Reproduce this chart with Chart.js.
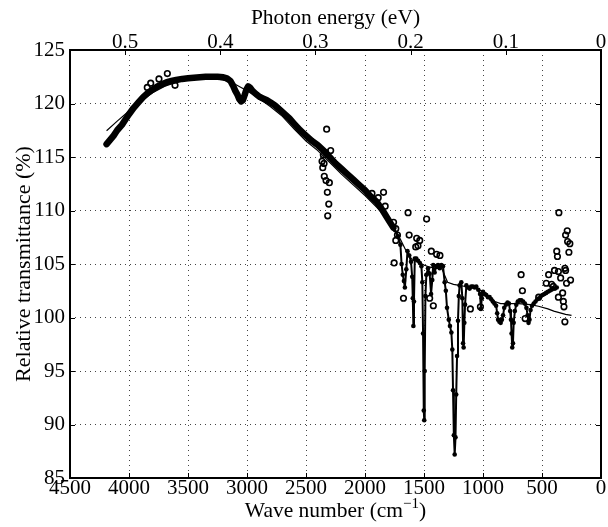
<!DOCTYPE html>
<html>
<head>
<meta charset="utf-8">
<title>Relative transmittance</title>
<script src="https://cdn.jsdelivr.net/npm/chart.js@4.4.1/dist/chart.umd.min.js"></script>
<style>
  html, body { margin: 0; padding: 0; background: #fff; }
</style>
</head>
<body>
<canvas id="spectrumChart" width="608" height="527"></canvas>
<script>
"use strict";

// axis ticks
const waveTicks = [4500, 4000, 3500, 3000, 2500, 2000, 1500, 1000, 500, 0];
const transTicks = [85, 90, 95, 100, 105, 110, 115, 120, 125];
const energyTicks = [0.5, 0.4, 0.3, 0.2, 0.1, 0];
const CM_PER_EV = 8065.54;

// measured spectrum (line with dots)
const lineWn = [
  4190, 4160, 4130, 4100, 4060, 4030, 4000, 3960, 3920, 3880,
  3840, 3800, 3760, 3720, 3680, 3640, 3600, 3550, 3500, 3450,
  3400, 3350, 3300, 3250, 3200, 3170, 3140, 3120, 3100, 3080,
  3065, 3050, 3035, 3020, 3005, 2990, 2975, 2955, 2935, 2915,
  2890, 2860, 2830, 2800, 2760, 2720, 2680, 2640, 2600, 2550,
  2500, 2450, 2400, 2350, 2300, 2250, 2200, 2150, 2100, 2050,
  2000, 1950, 1900, 1850, 1800, 1760, 1720, 1700, 1690, 1680,
  1670, 1662, 1650, 1640, 1625, 1610, 1600, 1595, 1590, 1585,
  1578, 1565, 1550, 1535, 1522, 1514, 1508, 1502, 1498, 1494,
  1488, 1480, 1466, 1452, 1440, 1430, 1422, 1410, 1395, 1381,
  1367, 1353, 1339, 1325, 1315, 1305, 1290, 1280, 1268, 1260,
  1254, 1247, 1240, 1233, 1227, 1220, 1212, 1205, 1198, 1184,
  1175, 1169, 1164, 1158, 1152, 1141, 1127, 1113, 1100, 1085,
  1070, 1057, 1040, 1025, 1018, 1010, 1000, 985, 972, 958,
  944, 930, 917, 903, 889, 880, 872, 861, 850, 840,
  830, 820, 806, 792, 780, 770, 763, 758, 752, 746,
  740, 730, 718, 705, 690, 675, 660, 645, 632, 622,
  614, 606, 597, 585, 570, 555, 540, 525, 510, 495,
  480, 465, 450, 435, 420, 405, 390, 375
];
const lineVal = [
  116.2, 116.6, 117.0, 117.5, 118.0, 118.5, 119.0, 119.6, 120.1, 120.6,
  121.0, 121.3, 121.6, 121.8, 122.0, 122.1, 122.2, 122.3, 122.35, 122.4,
  122.45, 122.5, 122.5, 122.5, 122.45, 122.35, 122.1, 121.7, 121.2, 120.8,
  120.4, 120.2, 120.3, 120.8, 121.3, 121.6, 121.5, 121.2, 121.0, 120.8,
  120.6, 120.45, 120.3, 120.1, 119.8, 119.4, 119.0, 118.6, 118.1, 117.5,
  117.0, 116.5, 116.1, 115.6, 115.0, 114.4, 113.9, 113.4, 112.9, 112.4,
  111.9, 111.3, 110.8, 110.0, 109.1, 108.4, 107.6, 106.8, 105.0, 104.0,
  103.4, 102.8, 104.5, 106.2, 105.8, 105.2, 103.8, 101.8, 99.2, 101.5,
  105.5, 105.5, 105.3, 105.1, 104.8, 103.3, 98.5, 91.3, 90.4, 95.0,
  102.0, 104.0, 104.6, 104.1, 102.2, 103.5, 104.9, 104.2, 104.8, 104.9,
  104.6, 104.9, 104.8, 103.3, 102.5, 100.9, 99.8, 99.2, 98.6, 97.0,
  93.2, 89.0, 87.2, 88.8, 92.8, 96.4, 99.7, 102.0, 103.0, 103.3,
  101.8, 97.6, 97.2, 99.5, 101.2, 103.0, 102.8, 102.7, 102.9, 102.9,
  102.8, 102.9, 102.6, 102.2, 100.8, 101.8, 102.4, 102.2, 102.1, 101.9,
  101.9, 101.7, 101.5, 101.3, 101.1, 100.4, 99.8, 99.6, 99.5, 99.8,
  100.2, 100.9, 101.2, 101.4, 101.3, 100.6, 99.8, 98.5, 97.2, 97.6,
  99.5, 100.6, 101.2, 101.5, 101.6, 101.6, 101.5, 101.3, 100.9, 100.2,
  99.5, 99.8, 100.7, 101.1, 101.3, 101.5, 101.7, 101.8, 102.0, 102.1,
  102.2, 102.3, 102.4, 102.5, 102.6, 102.7, 102.7, 102.8
];

// scattered points (open circles)
const dotWn = [
  3845, 3816, 3746, 3675, 3610,
  2325, 2291, 2333, 2353, 2364, 2347, 2358, 2345, 2330, 2302, 2319, 2307, 2316,
  1941, 1888, 1843, 1829, 1758, 1739, 1725, 1739, 1753, 1674,
  1635, 1626, 1562, 1536, 1570, 1551, 1478, 1438, 1393, 1365, 1421, 1452,
  1107, 1022, 677, 666, 643, 528,
  357, 286, 300, 283, 264, 272, 375, 369, 394, 361, 444, 464,
  342, 325, 258, 292, 319, 314, 306, 361, 300, 306, 419, 404
];
const dotVal = [
  121.5, 121.9, 122.3, 122.8, 121.7,
  117.6, 115.6, 115.4, 115.2, 114.6, 114.4, 114.0, 113.2, 112.8, 112.6, 111.7, 110.6, 109.5,
  111.6, 111.2, 111.7, 110.4, 108.9, 108.3, 107.7, 107.2, 105.1, 101.8,
  109.8, 107.7, 107.4, 107.2, 106.6, 106.7, 109.2, 106.2, 105.9, 105.8, 101.1, 101.8,
  100.8, 101.0, 104.0, 102.5, 99.9, 101.9,
  109.8, 108.1, 107.7, 107.1, 106.9, 106.1, 106.2, 105.7, 104.4, 104.3, 104.0, 103.2,
  103.7, 102.3, 103.5, 103.2, 101.5, 101.0, 99.6, 101.9, 104.4, 104.6, 103.1, 102.9
];

// smooth fitted curve
const fitWn = [
  4190, 4100, 4000, 3900, 3800, 3700, 3600, 3500, 3400, 3300,
  3200, 3100, 3000, 2900, 2800, 2700, 2600, 2500, 2400, 2300,
  2200, 2100, 2000, 1900, 1800, 1750, 1700, 1650, 1600, 1550,
  1500, 1450, 1400, 1350, 1300, 1250, 1200, 1150, 1100, 1050,
  1000, 950, 900, 850, 800, 700, 600, 530, 450, 400,
  300, 250
];
const fitVal = [
  117.45, 118.35, 119.3, 120.2, 121.0, 121.6, 122.0, 122.25, 122.35, 122.35,
  122.2, 121.8, 121.2, 120.5, 119.7, 118.8, 117.6, 116.5, 115.6, 114.5,
  113.4, 112.4, 111.4, 110.3, 109.1, 108.3, 107.3, 106.2, 105.4, 105.2,
  104.9, 104.7, 104.6, 104.6, 103.3, 103.1, 103.0, 102.9, 102.8, 102.7,
  102.4, 102.0, 101.5, 101.3, 101.3, 101.3, 101.2, 101.05, 100.8, 100.6,
  100.3, 100.2
];

const FONT = "'Liberation Serif', 'Times New Roman', serif";
const tickFont = { family: FONT, size: 21 };

function toPoints(xs, ys) {
  return xs.map((x, i) => ({ x: x, y: ys[i] }));
}

// box, inward tick marks and the bottom title (with superscript)
const framePlugin = {
  id: "frame",
  afterDraw(chart) {
    const { ctx, chartArea: a, scales } = chart;
    ctx.save();
    ctx.strokeStyle = "#000";
    ctx.lineWidth = 1;
    ctx.beginPath();
    waveTicks.forEach((v) => {
      const x = Math.round(scales.x.getPixelForValue(v)) + 0.5;
      ctx.moveTo(x, a.bottom);
      ctx.lineTo(x, a.bottom - 5);
    });
    energyTicks.forEach((e) => {
      const x = Math.round(scales.x2.getPixelForValue(e * CM_PER_EV)) + 0.5;
      ctx.moveTo(x, a.top);
      ctx.lineTo(x, a.top + 5);
    });
    transTicks.forEach((v) => {
      const y = Math.round(scales.y.getPixelForValue(v)) + 0.5;
      ctx.moveTo(a.left, y);
      ctx.lineTo(a.left + 5, y);
      ctx.moveTo(a.right, y);
      ctx.lineTo(a.right - 5, y);
    });
    ctx.stroke();

    ctx.lineWidth = 2;
    ctx.strokeRect(a.left, a.top, a.right - a.left, a.bottom - a.top);

    const main = "Wave number (cm";
    const sup = "\u22121";
    const tail = ")";
    ctx.fillStyle = "#000";
    ctx.textBaseline = "alphabetic";
    ctx.font = "21.5px " + FONT;
    const w1 = ctx.measureText(main).width;
    const w3 = ctx.measureText(tail).width;
    ctx.font = "15px " + FONT;
    const w2 = ctx.measureText(sup).width;
    let x = (a.left + a.right) / 2 - (w1 + w2 + w3) / 2;
    const base = 517;
    ctx.font = "21.5px " + FONT;
    ctx.fillText(main, x, base);
    x += w1;
    ctx.font = "15px " + FONT;
    ctx.fillText(sup, x, base - 9);
    x += w2;
    ctx.font = "21.5px " + FONT;
    ctx.fillText(tail, x, base);
    ctx.restore();
  },
};

const ctx = document.getElementById("spectrumChart").getContext("2d");

new Chart(ctx, {
  type: "scatter",
  data: {
    datasets: [
      {
        label: "Fit",
        data: toPoints(fitWn, fitVal),
        showLine: true,
        borderColor: "#000",
        borderWidth: 1.2,
        pointRadius: 0,
        order: 0,
      },
      {
        label: "Measured",
        data: toPoints(lineWn, lineVal),
        showLine: true,
        borderColor: "#000",
        backgroundColor: "#000",
        borderWidth: 2,
        borderCapStyle: "round",
        borderJoinStyle: "round",
        pointRadius: (c) => (c.raw && c.raw.x > 1790 ? 0 : 2.3),
        pointBorderWidth: 0,
        segment: {
          borderWidth: (c) => (c.p0.parsed.x > 1790 ? 6.5 : 2),
        },
        order: 1,
      },
      {
        label: "Points",
        data: toPoints(dotWn, dotVal),
        showLine: false,
        borderColor: "#000",
        backgroundColor: "rgba(255,255,255,0)",
        borderWidth: 1.6,
        pointRadius: 2.8,
        order: 2,
      },
    ],
  },
  options: {
    responsive: false,
    animation: false,
    devicePixelRatio: 1,
    layout: { padding: { top: 0, right: 7, bottom: 0, left: 0 } },
    plugins: {
      legend: { display: false },
      tooltip: { enabled: false },
    },
    scales: {
      x: {
        type: "linear",
        position: "bottom",
        reverse: true,
        min: 0,
        max: 4500,
        afterBuildTicks: (s) => { s.ticks = waveTicks.map((v) => ({ value: v })); },
        afterFit: (s) => { s.height = 49; },
        ticks: {
          color: "#000",
          font: tickFont,
          padding: -2,
          maxRotation: 0,
          autoSkip: false,
          callback: (value) => String(value),
        },
        grid: { color: "#444", lineWidth: 1, drawTicks: false },
        border: { display: false, dash: [1, 4] },
      },
      x2: {
        type: "linear",
        position: "top",
        reverse: true,
        min: 0,
        max: 4500,
        afterBuildTicks: (s) => { s.ticks = energyTicks.map((e) => ({ value: e * CM_PER_EV })); },
        afterFit: (s) => { s.height = 50; },
        ticks: {
          color: "#000",
          font: tickFont,
          padding: -5,
          maxRotation: 0,
          autoSkip: false,
          callback: (value, index) => String(energyTicks[index]),
        },
        grid: { display: false, drawTicks: false },
        border: { display: false },
        title: {
          display: true,
          text: "Photon energy (eV)",
          color: "#000",
          font: { family: FONT, size: 21.5 },
          padding: { top: 5, bottom: 0 },
        },
      },
      y: {
        type: "linear",
        position: "left",
        min: 85,
        max: 125,
        afterBuildTicks: (s) => { s.ticks = transTicks.map((v) => ({ value: v })); },
        afterFit: (s) => { s.width = 70; },
        ticks: { color: "#000", font: tickFont, padding: 5 },
        grid: { color: "#444", lineWidth: 1, drawTicks: false },
        border: { display: false, dash: [1, 4] },
        title: {
          display: true,
          text: "Relative transmittance (%)",
          color: "#000",
          font: { family: FONT, size: 22 },
          padding: { top: 11, bottom: 0 },
        },
      },
    },
  },
  plugins: [framePlugin],
});
</script>
</body>
</html>
